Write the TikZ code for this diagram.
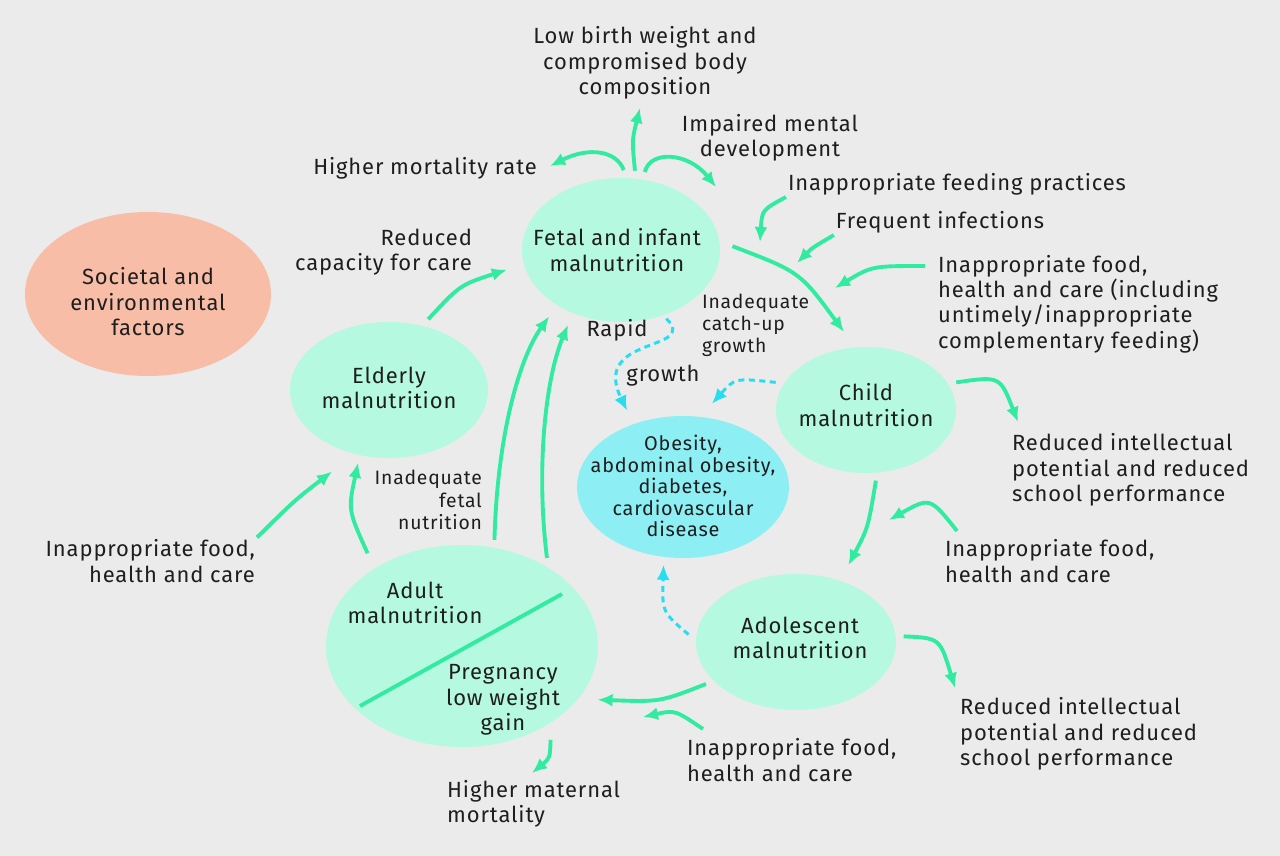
\documentclass[tikz,border=0pt]{standalone}
\usepackage{fontspec}
\setmainfont{Fira Sans}[LetterSpace=4]
\usetikzlibrary{arrows.meta,shapes.geometric}
\definecolor{malbg}{HTML}{EBEBEB}
\definecolor{malmint}{HTML}{B4F9E0}
\definecolor{malgreen}{HTML}{30EBA0}
\definecolor{malcyan}{HTML}{8DEFF4}
\definecolor{maldash}{HTML}{26DEF2}
\definecolor{malsalmon}{HTML}{F8BDA6}
\definecolor{maltext}{HTML}{1E1E1E}
\tikzset{
  stage/.style={ellipse,fill=malmint,inner sep=0pt,outer sep=1.6mm},
  disease/.style={stage,fill=malcyan},
  root/.style={stage,fill=malsalmon},
  lbl/.style={align=center,inner sep=1pt,font=\fontsize{12.5}{14.5}\selectfont,text=maltext},
  lbls/.style={lbl,font=\fontsize{11}{12.6}\selectfont},
  ar/.style={-{Latex[length=3mm,width=2.6mm]},draw=malgreen,line width=2.2pt},
  dar/.style={-{Latex[length=3mm,width=2.6mm]},draw=maldash,line width=1.7pt,dash pattern=on 1.2mm off 0.9mm},
}
\begin{document}
\begin{tikzpicture}[x=0.2mm,y=-0.2mm]
  \fill[malbg] (0,0) rectangle (1280,856);
  \useasboundingbox (0,0) rectangle (1280,856);
  % the life-cycle stages
  \node[root,minimum width=49.2mm,minimum height=32.8mm] (society) at (148,294) {};
  \node[stage,minimum width=39.6mm,minimum height=28.8mm] (fetal) at (621,250) {};
  \node[stage,minimum width=39.6mm,minimum height=27.2mm] (elderly) at (389,390) {};
  \node[stage,minimum width=36mm,minimum height=25.2mm] (child) at (866,410) {};
  \node[disease,minimum width=42.4mm,minimum height=28.4mm] (obesity) at (683,487) {};
  \node[stage,minimum width=40mm,minimum height=27.2mm] (adol) at (796,642) {};
  \node[stage,minimum width=54.4mm,minimum height=40.4mm] (adult) at (462,646) {};
  \draw[malgreen,line width=2.2pt] (360,706) -- (562,594);
  \node[lbl] (societytxt) at (148,302) {Societal and\\environmental\\factors};
  \node[lbl] (fetaltxt) at (617,250) {Fetal and infant\\malnutrition};
  \node[lbl] (elderlytxt) at (389,388) {Elderly\\malnutrition};
  \node[lbl] (childtxt) at (866,405) {Child\\malnutrition};
  \node[lbls,font=\fontsize{11.3}{12.3}\selectfont] (obesitytxt) at (683,486) {Obesity,\\abdominal obesity,\\diabetes,\\cardiovascular\\disease};
  \node[lbl] (adoltxt) at (800,638) {Adolescent\\malnutrition};
  \node[lbl] (adulttxt) at (415,603) {Adult\\malnutrition};
  \node[lbl] (pregtxt) at (503,700) {Pregnancy\\low weight\\gain};
  % causes and outcomes
  \node[lbl] (lowbirth) at (645,63) {Low birth weight and\\compromised body\\composition};
  \node[lbl] (impaired) at (770,138) {Impaired mental\\development};
  \node[lbl] (highmort) at (425,168) {Higher mortality rate};
  \node[lbl] (feedprac) at (957,184) {Inappropriate feeding practices};
  \node[lbl] (freqinf) at (940,222) {Frequent infections};
  \node[lbl,anchor=west,align=left] (foodchild) at (936,304) {Inappropriate food,\\health and care (including\\untimely/inappropriate\\complementary feeding)};
  \node[lbl,anchor=east,align=right] (redcap) at (474,252) {Reduced\\capacity for care};
  \node[lbl] (rapid) at (617,330) {Rapid};
  \node[lbl] (growth) at (663,376) {growth};
  \node[lbls,anchor=west,align=left] (catchup) at (700,325) {Inadequate\\catch-up\\growth};
  \node[lbl,anchor=west,align=left] (schoola) at (1010,470) {Reduced intellectual\\potential and reduced\\school performance};
  \node[lbl,anchor=west,align=left] (foodadol) at (943,561) {Inappropriate food,\\health and care};
  \node[lbls,anchor=east,align=right] (fetalnut) at (484,500) {Inadequate\\fetal\\nutrition};
  \node[lbl,anchor=east,align=right] (foodadult) at (257,561) {Inappropriate food,\\health and care};
  \node[lbl,anchor=west,align=left] (schoolb) at (958,734) {Reduced intellectual\\potential and reduced\\school performance};
  \node[lbl,anchor=west,align=left] (foodpreg) at (685,760) {Inappropriate food,\\health and care};
  \node[lbl,anchor=west,align=left] (matmort) at (445,804) {Higher maternal\\mortality};
  % free ends
  \coordinate (hmtip) at (550,166);
  \coordinate (lbwtip) at (640,108);
  \coordinate (imptip) at (716,187);
  \coordinate (fptip) at (760,242);
  \coordinate (fitip) at (797,263);
  \coordinate (fcfrom) at (925,266);
  \coordinate (fctip) at (835,288);
  \coordinate (satip) at (1018,422);
  \coordinate (fafrom) at (957,531);
  \coordinate (fatip) at (889,520);
  \coordinate (sbtip) at (955,688);
  \coordinate (fgfrom) at (703,729);
  \coordinate (fgtip) at (643,717);
  \coordinate (mmtip) at (532,773);
  % green arrows
  \draw[ar] (fetal.88) .. controls (616,150) and (588,147) .. (hmtip);
  \draw[ar] (fetal.80) .. controls (632,140) .. (lbwtip);
  \draw[ar] (fetal.73) .. controls (650,150) and (688,152) .. (imptip);
  \draw[ar] (feedprac.south west) .. controls (762,210) .. (fptip);
  \draw[ar] (freqinf.south west) .. controls (812,248) .. (fitip);
  \draw[ar] (fcfrom) .. controls (872,266) .. (fctip);
  \draw[ar,shorten <=1mm,shorten >=2mm] (fetal.3) .. controls (800,272) .. (child.103);
  \draw[ar] (child.17) .. controls (1000,376) .. (satip);
  \draw[ar,shorten >=2mm] (child.278) .. controls (868,528) .. (adol.55);
  \draw[ar] (fafrom) .. controls (930,497) .. (fatip);
  \draw[ar] (adol.3) .. controls (940,638) .. (sbtip);
  \draw[ar,shorten >=2mm] (adol.205) .. controls (660,702) .. (adult.337);
  \draw[ar] (fgfrom) .. controls (675,710) .. (fgtip);
  \draw[ar,shorten <=1.6mm] (adult.316) .. controls (550,758) .. (mmtip);
  \draw[ar,shorten >=3.8mm] (foodadult.north east) .. controls (295,500) .. (elderly.239);
  \draw[ar,shorten <=1.8mm] (adult.137) .. controls (348,510) .. (elderly.247);
  \draw[ar,shorten >=1.2mm] (adult.73) .. controls (497,440) and (518,360) .. (fetal.222);
  \draw[ar,shorten >=1mm] (adult.46) .. controls (536,470) and (545,380) .. (fetal.234);
  \draw[ar,shorten >=2mm] (elderly.61) .. controls (460,285) .. (fetal.189);
  % dashed arrows to the disease node
  \draw[dar,shorten <=-0.8mm,shorten >=1.4mm] (fetal.304) .. controls (700,352) and (590,335) .. (obesity.127);
  \draw[dar,shorten >=1.6mm] (child.163) .. controls (735,378) .. (obesity.73);
  \draw[dar] (adol.176) .. controls (662,612) .. (obesity.256);
\end{tikzpicture}
\end{document}
